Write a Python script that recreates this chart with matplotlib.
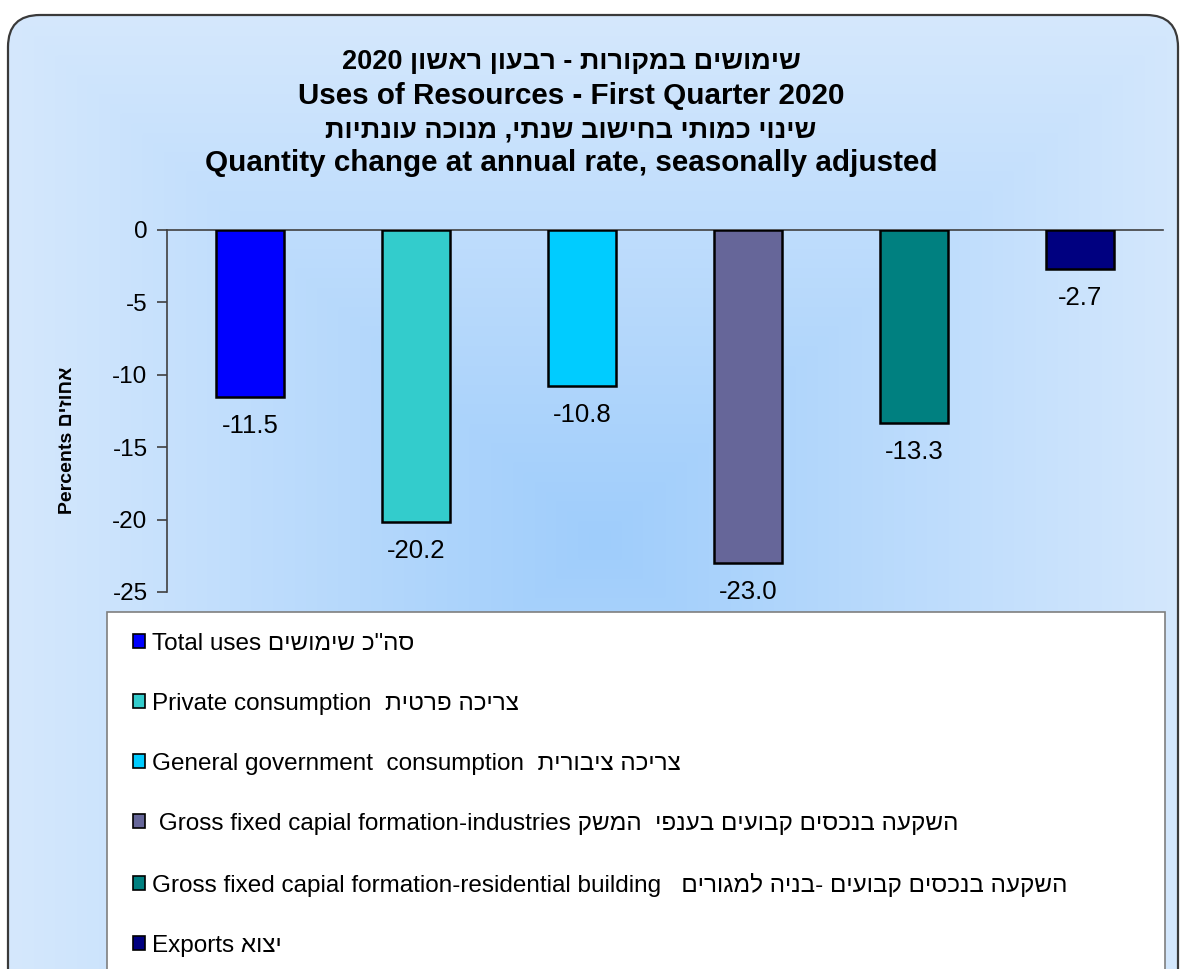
import re
import numpy as np
import matplotlib
matplotlib.use("Agg")
import matplotlib.pyplot as plt
from matplotlib.patches import FancyBboxPatch, Rectangle, Patch

plt.rcParams['font.family'] = ['Liberation Sans', 'DejaVu Sans']
plt.rcParams['axes.unicode_minus'] = False

# ---------------- data ----------------
categories = [
    'Total uses סה"כ שימושים',
    'Private consumption  צריכה פרטית',
    'General government  consumption  צריכה ציבורית',
    ' Gross fixed capial formation-industries השקעה בנכסים קבועים בענפי  המשק',
    'Gross fixed capial formation-residential building   השקעה בנכסים קבועים -בניה למגורים',
    'Exports יצוא',
]
values = [-11.5, -20.2, -10.8, -23.0, -13.3, -2.7]
colors = ['#0000FF', '#33CCCC', '#00CCFF', '#666699', '#008080', '#000080']
yticks = [0, -5, -10, -15, -20, -25]
title_lines = [
    ('שימושים במקורות - רבעון ראשון 2020', True),
    ('Uses of Resources - First Quarter 2020', False),
    ('שינוי כמותי בחישוב שנתי, מנוכה עונתיות', True),
    ('Quantity change at annual rate, seasonally adjusted', False),
]
ylabel = 'Percents אחוזים'

HEB = '\u0590-\u05FF'


def visual(s, rtl=False):
    """Convert logical-order Hebrew text into visual order for matplotlib."""
    if rtl:
        r = s[::-1]
        return re.sub(r'[A-Za-z0-9][A-Za-z0-9.,\- ]*[A-Za-z0-9]|[A-Za-z0-9]',
                      lambda m: m.group(0)[::-1], r)
    return re.sub('[' + HEB + '][' + HEB + '\\s"\',\\-]*[' + HEB + ']|[' + HEB + ']',
                  lambda m: m.group(0)[::-1], s)


W, H = 1180, 969
fig = plt.figure(figsize=(W / 100, H / 100), dpi=100)
fig.patch.set_facecolor('white')

# background axes in pixel coordinates
bg = fig.add_axes([0, 0, 1, 1])
bg.set_xlim(0, W)
bg.set_ylim(H, 0)
bg.axis('off')

panel = FancyBboxPatch((8, 15), 1170, 1090, boxstyle='round,pad=0,rounding_size=32',
                       facecolor='none', edgecolor='#3a3a3a', linewidth=1.6, zorder=3)
bg.add_patch(panel)

# rectangular "from centre" gradient fill
gx = np.linspace(8, 1178, 400)
gy = np.linspace(15, 1105, 400)
GX, GY = np.meshgrid(gx, gy)
d = np.maximum(np.abs(GX - 600) / 590, np.abs(GY - 540) / 525)
t = np.clip(d, 0, 1)
c_in = np.array([159, 205, 251]) / 255.0
c_out = np.array([213, 232, 253]) / 255.0
img = c_in[None, None, :] * (1 - t[..., None]) + c_out[None, None, :] * t[..., None]
im = bg.imshow(img, extent=(8, 1178, 1105, 15), origin='upper', aspect='auto', zorder=1)
clip = FancyBboxPatch((8, 15), 1170, 1090, boxstyle='round,pad=0,rounding_size=32',
                      transform=bg.transData, facecolor='none', edgecolor='none')
im.set_clip_path(clip)

# legend box
bg.add_patch(Rectangle((107, 612), 1058, 420, facecolor='white', edgecolor='#7f7f7f',
                       linewidth=1.2, zorder=2))

# ---------------- main axes ----------------
ax = fig.add_axes([167 / W, 1 - 592 / H, (1163 - 167) / W, (592 - 230) / H])
ax.patch.set_alpha(0)
x = np.arange(len(values))
bars = ax.bar(x, values, width=0.41, color=colors, edgecolor='black', linewidth=1.8, zorder=3)
ax.set_xlim(-0.5, len(values) - 0.5)
ax.set_ylim(-25, 0)
ax.set_yticks(yticks)
ax.set_yticklabels([str(v) for v in yticks])
ax.set_xticks([])
for s in ['right', 'bottom']:
    ax.spines[s].set_visible(False)
for s in ['left', 'top']:
    ax.spines[s].set_color('#404040')
    ax.spines[s].set_linewidth(1.2)
ax.tick_params(axis='y', direction='out', length=7, width=1.2, color='#404040',
               labelsize=17.5, pad=7, labelcolor='black')

for xi, v in zip(x, values):
    ax.annotate(f'{v:.1f}', (xi, v), xytext=(0, -17), textcoords='offset pixels',
                ha='center', va='top', fontsize=18.5, color='black')

# titles
for (line, rtl), yp in zip(title_lines, [62, 96, 130, 163]):
    fig.text(571 / W, 1 - yp / H, visual(line, rtl) if rtl else line, ha='center', va='center',
             fontsize=19.5 if rtl else 21.3, fontweight='bold', color='black')

fig.text(67 / W, 1 - 440 / H, visual(ylabel), rotation=90, ha='center', va='center',
         fontsize=14, fontweight='bold')

# legend
handles = [Patch(facecolor=c, edgecolor='black', linewidth=1.2) for c in colors]
fig.legend(handles, [visual(c) for c in categories], loc='upper left',
           bbox_to_anchor=(133 / W, 1 - 633 / H), frameon=False, fontsize=17.5,
           labelspacing=1.56, handlelength=0.5, handleheight=0.5, handletextpad=0.27,
           borderaxespad=0, borderpad=0)

fig.savefig('out.png', dpi=100)
